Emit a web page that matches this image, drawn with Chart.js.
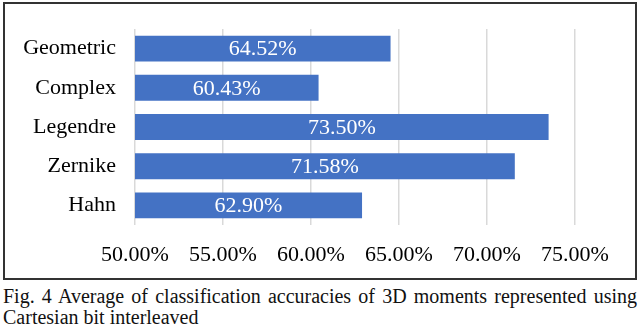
<!DOCTYPE html>
<html>
<head>
<meta charset="utf-8">
<script src="https://cdn.jsdelivr.net/npm/chart.js@4.4.0/dist/chart.umd.min.js"></script>
<style>
    body { margin: 0; background: #fff; font-family: "Liberation Serif", "Times New Roman", serif; }
    #box {
        position: absolute; left: 3px; top: 2px;
        width: 630px; height: 274px;
        border: 2px solid #333;
    }
    #caption {
        position: absolute; left: 3px; top: 286px; width: 634px;
        font-size: 20px; line-height: 21px; color: #111;
        text-align: justify; text-align-last: left;
    }
</style>
</head>
<body>
<div id="box"><canvas id="accChart" width="630" height="274"></canvas></div>
<div id="caption">Fig. 4 Average of classification accuracies of 3D moments represented using Cartesian bit interleaved</div>
<script>
    // Chart data
    const moments = ['Geometric', 'Complex', 'Legendre', 'Zernike', 'Hahn'];
    const accuracies = [64.52, 60.43, 73.50, 71.58, 62.90];
    const xMin = 50, xMax = 75, xStep = 5;

    const serif = "'Liberation Serif', serif";
    const labelFont = { family: serif, size: 22 };

    // draws the value labels inside each bar
    const barLabels = {
        id: 'barLabels',
        afterDraw: function (chart) {
            const c = chart.ctx;
            const xs = chart.scales.x, ys = chart.scales.y;
            c.save();
            c.font = Chart.helpers.toFont(labelFont).string;
            c.fillStyle = '#ffffff';
            c.textAlign = 'center';
            c.textBaseline = 'middle';
            accuracies.forEach(function (v, i) {
                const mid = (xs.getPixelForValue(v) + xs.getPixelForValue(xMin)) / 2;
                c.fillText(v.toFixed(2) + '%', mid, ys.getPixelForValue(i) + 1);
            });
            c.restore();
        }
    };

    const ctx = document.getElementById('accChart').getContext('2d');
    new Chart(ctx, {
        type: 'bar',
        data: {
            labels: moments,
            datasets: [{
                data: accuracies,
                backgroundColor: '#4472C4',
                borderWidth: 0,
                barPercentage: 0.66,
                categoryPercentage: 1.0
            }]
        },
        options: {
            indexAxis: 'y',
            responsive: false,
            animation: false,
            layout: { padding: { top: 25, right: 60, left: 0, bottom: 0 } },
            plugins: { legend: { display: false }, tooltip: { enabled: false } },
            scales: {
                x: {
                    min: xMin,
                    max: xMax,
                    grid: { color: '#d9d9d9', lineWidth: 1.5, drawTicks: false },
                    border: { display: false },
                    ticks: {
                        stepSize: xStep,
                        padding: 17,
                        color: '#000',
                        font: labelFont,
                        maxRotation: 0,
                        callback: function (v) { return v.toFixed(2) + '%'; }
                    },
                    afterFit: function (scale) { scale.height = 53; }
                },
                y: {
                    grid: { display: false, drawTicks: false },
                    border: { display: false },
                    ticks: {
                        padding: 19,
                        color: '#000',
                        font: labelFont
                    },
                    afterFit: function (scale) {
                        scale.width = 130;
                        scale.paddingTop = 0;
                        scale.paddingBottom = 0;
                    }
                }
            }
        },
        plugins: [barLabels]
    });
</script>
</body>
</html>
